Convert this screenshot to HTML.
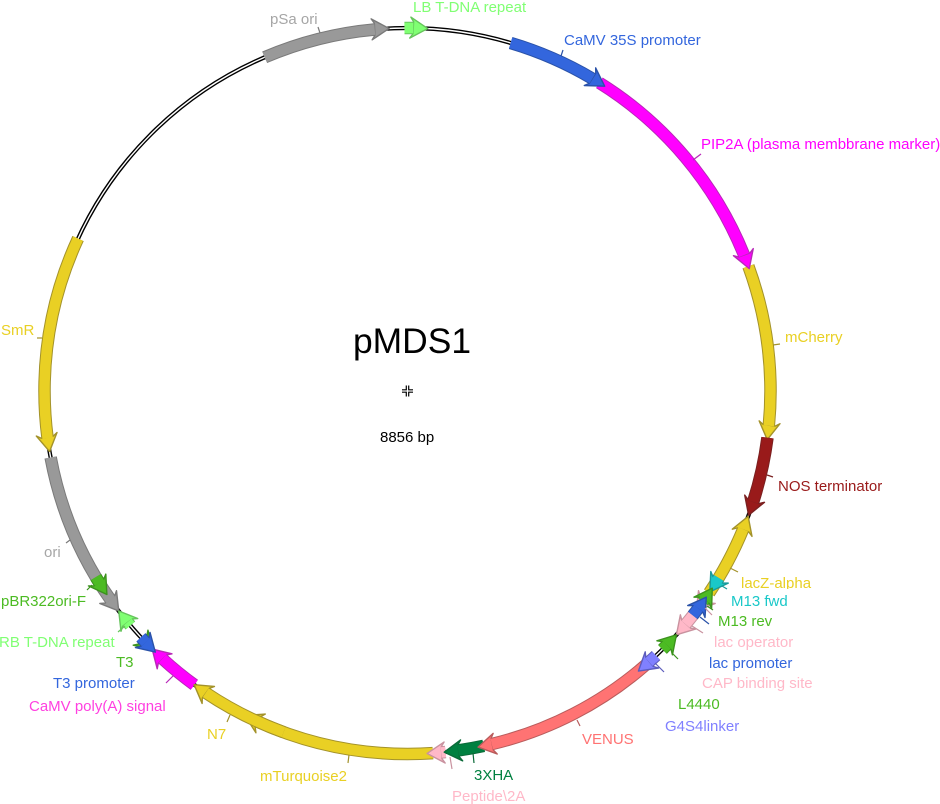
<!DOCTYPE html>
<html>
<head>
<meta charset="utf-8">
<title>pMDS1</title>
<style>
html,body{margin:0;padding:0;background:#fff;width:940px;height:804px;overflow:hidden}
svg{display:block}
text{font-family:"Liberation Sans",Arial,sans-serif;font-size:15px}
circle{fill:none}
.o{stroke:var(--d);stroke-width:12.5}
.f{stroke:var(--c);stroke-width:10.5}
.h{fill:var(--c);stroke:var(--d);stroke-width:1.4;stroke-linejoin:round;stroke-dasharray:none;stroke-dashoffset:0}
.y{--c:#e9d024;--d:#a3922a}
.g{--c:#999999;--d:#7a7a7a}
.b{--c:#3366dd;--d:#2a52a8}
.m{--c:#ff00ff;--d:#b828b8}
.r{--c:#991a1a;--d:#7a2020}
.s{--c:#ff7373;--d:#b85c5c}
.dg{--c:#008040;--d:#0a6a38}
.p{--c:#ffb8c8;--d:#c9929f}
.v{--c:#8080ff;--d:#5c5cbc}
.lg{--c:#80ff73;--d:#66c45c}
.gr{--c:#4cbb23;--d:#3c921e}
.t{--c:#1ac8c8;--d:#1a9a9a}
line{stroke-width:1.2}
</style>
</head>
<body>
<svg width="940" height="804" viewBox="0 0 940 804" xmlns="http://www.w3.org/2000/svg">
<defs>
<polygon id="cw" class="h" points="0,-363 -17.5,-373.5 -14.5,-369 -14.5,-357 -17.5,-352.5"/>
<polygon id="ccw" class="h" points="0,-363 17.5,-373.5 14.5,-369 14.5,-357 17.5,-352.5"/>
</defs>
<g transform="translate(407.5,391)">
<circle r="363" stroke="#000" stroke-width="4.2"/>
<circle r="363" stroke="#fff" stroke-width="1.4"/>

<!-- pSa ori -->
<g class="g" stroke-dasharray="18 342" stroke-dashoffset="-246.9"><circle class="o" r="363" pathLength="360"/><use href="#cw" transform="rotate(-2.9)"/><circle class="f" r="363" pathLength="360"/></g>
<!-- LB -->
<g class="lg" stroke-dasharray="1.4 358.6" stroke-dashoffset="-269.6"><circle class="o" r="363" pathLength="360"/><use href="#cw" transform="rotate(3.2)"/><circle class="f" r="363" pathLength="360"/></g>
<!-- mCherry -->
<g class="y" stroke-dasharray="25.5 334.5" stroke-dashoffset="-340"><circle class="o" r="363" pathLength="360"/><use href="#cw" transform="rotate(97.7)"/><circle class="f" r="363" pathLength="360"/></g>
<!-- PIP2A -->
<g class="m" stroke-dasharray="36.1 323.9" stroke-dashoffset="-302"><circle class="o" r="363" pathLength="360"/><use href="#cw" transform="rotate(70.3)"/><circle class="f" r="363" pathLength="360"/></g>
<!-- CaMV 35S -->
<g class="b" stroke-dasharray="14.1 345.9" stroke-dashoffset="-286.6"><circle class="o" r="363" pathLength="360"/><use href="#cw" transform="rotate(32.9)"/><circle class="f" r="363" pathLength="360"/></g>
<!-- lacZ -->
<g class="y" stroke-dasharray="11.4 348.6" stroke-dashoffset="-22.4"><circle class="o" r="363" pathLength="360"/><use href="#ccw" transform="rotate(110.2)"/><circle class="f" r="363" pathLength="360"/></g>
<!-- NOS -->
<g class="r" stroke-dasharray="10.4 349.6" stroke-dashoffset="-7.4"><circle class="o" r="363" pathLength="360"/><use href="#cw" transform="rotate(110)"/><circle class="f" r="363" pathLength="360"/></g>
<!-- lac operator -->
<g class="p"><use href="#cw" transform="rotate(127.3)"/></g>
<!-- M13 fwd -->
<g class="t" stroke-dasharray="0.6 359.4" stroke-dashoffset="-31"><circle class="o" r="363" pathLength="360"/><use href="#cw" transform="rotate(123.6)"/><circle class="f" r="363" pathLength="360"/></g>
<!-- M13 rev -->
<g class="gr" stroke-dasharray="0.4 359.6" stroke-dashoffset="-35.1"><circle class="o" r="363" pathLength="360"/><use href="#ccw" transform="rotate(122.9)"/><circle class="f" r="363" pathLength="360"/></g>
<!-- CAP -->
<g class="p" stroke-dasharray="2 358" stroke-dashoffset="-38"><circle class="o" r="363" pathLength="360"/><use href="#cw" transform="rotate(132.2)"/><circle class="f" r="363" pathLength="360"/></g>
<!-- lac promoter -->
<g class="b" stroke-dasharray="1.4 358.6" stroke-dashoffset="-36.8"><circle class="o" r="363" pathLength="360"/><use href="#ccw" transform="rotate(124.6)"/><circle class="f" r="363" pathLength="360"/></g>
<!-- L4440 -->
<g class="gr" stroke-dasharray="1 359" stroke-dashoffset="-44.4"><circle class="o" r="363" pathLength="360"/><use href="#ccw" transform="rotate(132.2)"/><circle class="f" r="363" pathLength="360"/></g>
<!-- mTurquoise2 -->
<g class="y" stroke-dasharray="28.4 331.6" stroke-dashoffset="-86"><circle class="o" r="363" pathLength="360"/><use href="#cw" transform="rotate(206.6)"/><circle class="f" r="363" pathLength="360"/></g>
<!-- Peptide 2A -->
<g class="p" stroke-dasharray="0.7 359.3" stroke-dashoffset="-84"><circle class="o" r="363" pathLength="360"/><use href="#cw" transform="rotate(176.9)"/><circle class="f" r="363" pathLength="360"/></g>
<!-- 3XHA -->
<g class="dg" stroke-dasharray="4.1 355.9" stroke-dashoffset="-77.9"><circle class="o" r="363" pathLength="360"/><use href="#cw" transform="rotate(174.2)"/><circle class="f" r="363" pathLength="360"/></g>
<!-- VENUS -->
<g class="s" stroke-dasharray="27.6 332.4" stroke-dashoffset="-49"><circle class="o" r="363" pathLength="360"/><use href="#cw" transform="rotate(168.8)"/><circle class="f" r="363" pathLength="360"/></g>
<!-- G4S4 -->
<g class="v" stroke-dasharray="1.5 358.5" stroke-dashoffset="-46.8"><circle class="o" r="363" pathLength="360"/><use href="#cw" transform="rotate(140.5)"/><circle class="f" r="363" pathLength="360"/></g>
<!-- CaMV polyA -->
<g class="m" stroke-dasharray="6.5 353.5" stroke-dashoffset="-126"><circle class="o" r="363" pathLength="360"/><use href="#cw" transform="rotate(224.7)"/><circle class="f" r="363" pathLength="360"/></g>
<!-- N7 -->
<g class="y" stroke-dasharray="13.8 346.2" stroke-dashoffset="-110"><circle class="o" r="363" pathLength="360"/><use href="#cw" transform="rotate(216)"/><circle class="f" r="363" pathLength="360"/></g>
<!-- T3 -->
<g class="gr"><use href="#ccw" transform="rotate(224.5)"/></g>
<!-- T3 promoter -->
<g class="b" stroke-dasharray="1.1 358.9" stroke-dashoffset="-136.2"><circle class="o" r="363" pathLength="360"/><use href="#ccw" transform="rotate(224)"/><circle class="f" r="363" pathLength="360"/></g>
<!-- ori -->
<g class="g" stroke-dasharray="24.6 335.4" stroke-dashoffset="-144.9"><circle class="o" r="363" pathLength="360"/><use href="#ccw" transform="rotate(232.7)"/><circle class="f" r="363" pathLength="360"/></g>
<!-- RB -->
<g class="lg" stroke-dasharray="0.7 359.3" stroke-dashoffset="-139.8"><circle class="o" r="363" pathLength="360"/><use href="#cw" transform="rotate(232.7)"/><circle class="f" r="363" pathLength="360"/></g>
<!-- pBR322ori-F -->
<g class="gr" stroke-dasharray="1.1 358.9" stroke-dashoffset="-148.1"><circle class="o" r="363" pathLength="360"/><use href="#ccw" transform="rotate(235.9)"/><circle class="f" r="363" pathLength="360"/></g>
<!-- SmR -->
<g class="y" stroke-dasharray="32.3 327.7" stroke-dashoffset="-172.6"><circle class="o" r="363" pathLength="360"/><use href="#ccw" transform="rotate(260.4)"/><circle class="f" r="363" pathLength="360"/></g>
</g>

<!-- leaders -->
<line x1="318" y1="27" x2="320" y2="33" stroke="#7a7a7a"/>
<line x1="563" y1="50" x2="561" y2="56" stroke="#2a52a8"/>
<line x1="701" y1="154" x2="693" y2="160" stroke="#b828b8"/>
<line x1="773" y1="345" x2="780" y2="344" stroke="#a3922a"/>
<line x1="767" y1="475" x2="773" y2="477" stroke="#7a2020"/>
<line x1="730" y1="568" x2="738" y2="572" stroke="#a3922a"/>
<line x1="722" y1="586" x2="727" y2="589" stroke="#1a9a9a"/>
<line x1="707" y1="606" x2="713" y2="610" stroke="#3c921e"/>
<line x1="705" y1="608" x2="712" y2="615" stroke="#c9929f"/>
<line x1="700" y1="617" x2="709" y2="624" stroke="#2a52a8"/>
<line x1="692" y1="626" x2="703" y2="633" stroke="#c9929f"/>
<line x1="672" y1="653" x2="678" y2="659" stroke="#3c921e"/>
<line x1="655" y1="663" x2="664" y2="672" stroke="#5c5cbc"/>
<line x1="577" y1="720" x2="580" y2="726" stroke="#b85c5c"/>
<line x1="473" y1="753" x2="474" y2="763" stroke="#0a6a38"/>
<line x1="450" y1="757" x2="452" y2="769" stroke="#c9929f"/>
<line x1="349" y1="755" x2="348" y2="763" stroke="#a3922a"/>
<line x1="230" y1="715" x2="227" y2="722" stroke="#a3922a"/>
<line x1="173" y1="676" x2="166" y2="683" stroke="#b828b8"/>
<line x1="125" y1="626" x2="118" y2="632" stroke="#66c45c"/>
<line x1="92" y1="585" x2="87" y2="590" stroke="#3c921e"/>
<line x1="70" y1="540" x2="66" y2="543" stroke="#7a7a7a"/>
<line x1="37" y1="338" x2="42" y2="338" stroke="#a3922a"/>

<!-- centre mark -->
<path d="M402 389.8H406.3V385.5M413 389.8H408.7V385.5M402 392.2H406.3V396.5M413 392.2H408.7V396.5" fill="none" stroke="#000" stroke-width="1.2"/>

<text x="353" y="353" style="font-size:35.4px" fill="#000">pMDS1</text>
<text x="380" y="442" fill="#000">8856 bp</text>

<text x="413" y="12" fill="#80ff73">LB T-DNA repeat</text>
<text x="270" y="24" fill="#a6a6a6">pSa ori</text>
<text x="564" y="45" fill="#3366dd">CaMV 35S promoter</text>
<text x="701" y="149" fill="#ff00ff">PIP2A (plasma membbrane marker)</text>
<text x="785" y="342" fill="#e9d024">mCherry</text>
<text x="778" y="491" fill="#991a1a">NOS terminator</text>
<text x="741" y="588" fill="#e9d024">lacZ-alpha</text>
<rect x="730" y="589" width="90" height="5" fill="#fff"/>
<text x="731" y="606" fill="#1ac8c8">M13 fwd</text>
<text x="718" y="626" fill="#4cbb23">M13 rev</text>
<text x="714" y="647" fill="#ffb8c8">lac operator</text>
<text x="709" y="668" fill="#3366dd">lac promoter</text>
<text x="702" y="688" fill="#ffb8c8">CAP binding site</text>
<text x="678" y="709" fill="#4cbb23">L4440</text>
<text x="665" y="731" fill="#8080ff">G4S4linker</text>
<text x="582" y="744" fill="#ff7373">VENUS</text>
<text x="474" y="780" fill="#008040">3XHA</text>
<text x="452" y="801" fill="#ffb8c8">Peptide\2A</text>
<text x="260" y="781" fill="#e9d024">mTurquoise2</text>
<text x="207" y="739" fill="#e9d024">N7</text>
<text x="29" y="711" fill="#ff40e0">CaMV poly(A) signal</text>
<text x="53" y="688" fill="#3366dd">T3 promoter</text>
<text x="116" y="667" fill="#4cbb23">T3</text>
<text x="-1" y="647" fill="#80ff73">RB T-DNA repeat</text>
<text x="1" y="606" fill="#4cbb23">pBR322ori-F</text>
<text x="44" y="557" fill="#a6a6a6">ori</text>
<text x="1" y="335" fill="#e9d024">SmR</text>
</svg>
</body>
</html>
